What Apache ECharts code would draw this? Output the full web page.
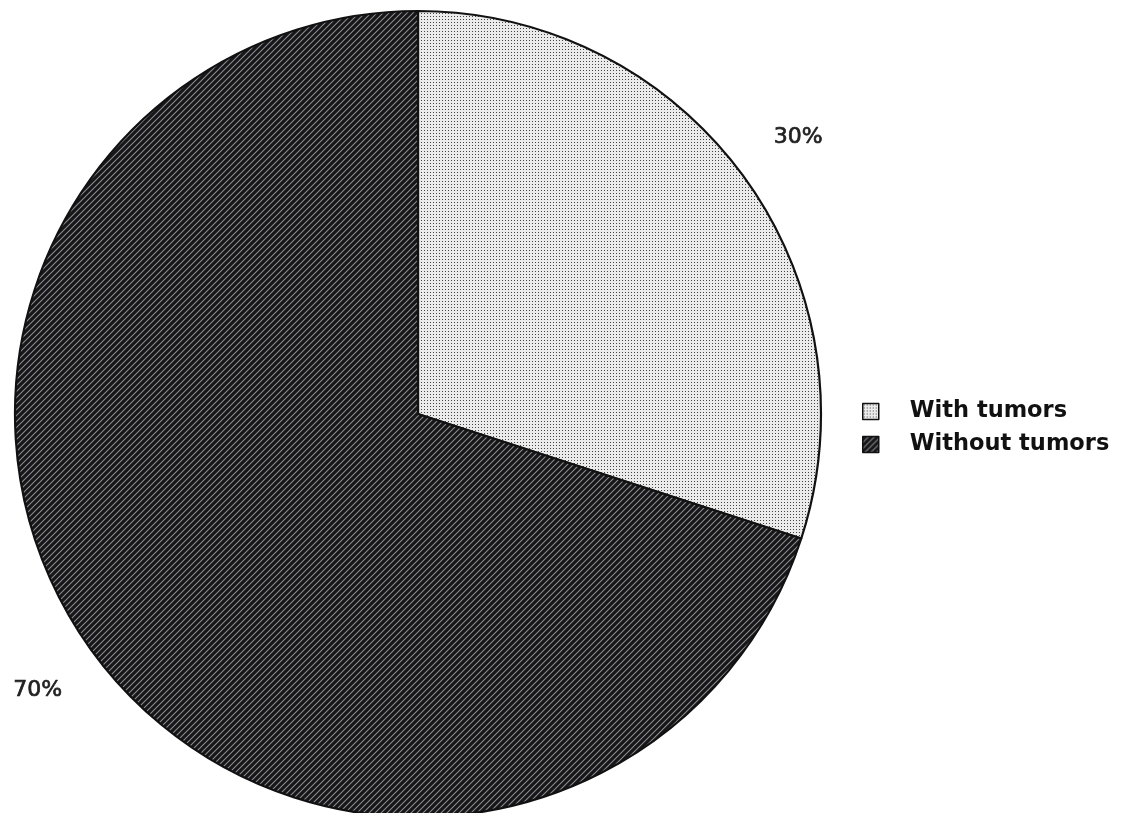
<!DOCTYPE html>
<html>
<head>
<meta charset="utf-8">
<script src="https://cdn.jsdelivr.net/npm/echarts@6/dist/echarts.min.js"></script>
<style>
html,body{margin:0;padding:0;background:#fff;}
#chart{width:1122px;height:813px;}
</style>
</head>
<body>
<div id="chart"></div>
<script>
const categories = ["With tumors", "Without tumors"];
const values = [30, 70];
const labels = ["30%", "70%"];

function dotPattern() {
  const c = document.createElement('canvas');
  c.width = 3; c.height = 3;
  const g = c.getContext('2d');
  g.fillStyle = '#ebebeb';
  g.fillRect(0, 0, 3, 3);
  g.fillStyle = '#444444';
  g.fillRect(1, 1, 1, 1);
  return c;
}
function stripePattern() {
  const s = 6;
  const c = document.createElement('canvas');
  c.width = s; c.height = s;
  const g = c.getContext('2d');
  g.fillStyle = '#15151a';
  g.fillRect(0, 0, s, s);
  g.strokeStyle = '#8c8c8c';
  g.lineWidth = 1.1;
  g.beginPath();
  g.moveTo(-1, s + 1); g.lineTo(s + 1, -1);
  g.moveTo(-1, 1); g.lineTo(1, -1);
  g.moveTo(s - 1, s + 1); g.lineTo(s + 1, s - 1);
  g.stroke();
  return c;
}
const fills = [
  { image: dotPattern(), repeat: 'repeat' },
  { image: stripePattern(), repeat: 'repeat' }
];

const chart = echarts.init(document.getElementById('chart'), null, { renderer: 'canvas' });
chart.setOption({
  animation: false,
  backgroundColor: '#ffffff',
  legend: {
    orient: 'vertical',
    left: 857,
    top: 395,
    icon: 'rect',
    itemWidth: 16,
    itemHeight: 16,
    itemGap: 10,
    textStyle: { fontFamily: 'DejaVu Sans, sans-serif', fontWeight: 'bold', fontSize: 22.5, color: '#111', padding: [0, 0, 0, 26] },
    data: categories.map((n) => ({ name: n, itemStyle: { borderColor: '#111', borderWidth: 1.5 } }))
  },
  series: [{
    type: 'pie',
    center: [418, 414],
    radius: 403,
    startAngle: 90,
    clockwise: true,
    label: { show: false },
    labelLine: { show: false },
    emphasis: { disabled: true },
    itemStyle: { borderColor: '#111', borderWidth: 2.2 },
    data: categories.map((n, i) => ({ name: n, value: values[i], itemStyle: { color: fills[i] } }))
  }, {
    type: 'pie',
    center: [418, 414],
    radius: [404, 530],
    startAngle: 90,
    clockwise: true,
    silent: true,
    z: 1,
    itemStyle: { color: 'rgba(0,0,0,0)', borderWidth: 0 },
    emphasis: { disabled: true },
    label: {
      show: true,
      position: 'inside',
      formatter: (p) => labels[p.dataIndex],
      fontFamily: 'DejaVu Sans, sans-serif',
      fontSize: 22,
      color: '#222',
      textBorderColor: '#222',
      textBorderWidth: 0.7
    },
    labelLine: { show: false },
    data: categories.map((n, i) => ({ name: n, value: values[i] }))
  }]
});
</script>
</body>
</html>
